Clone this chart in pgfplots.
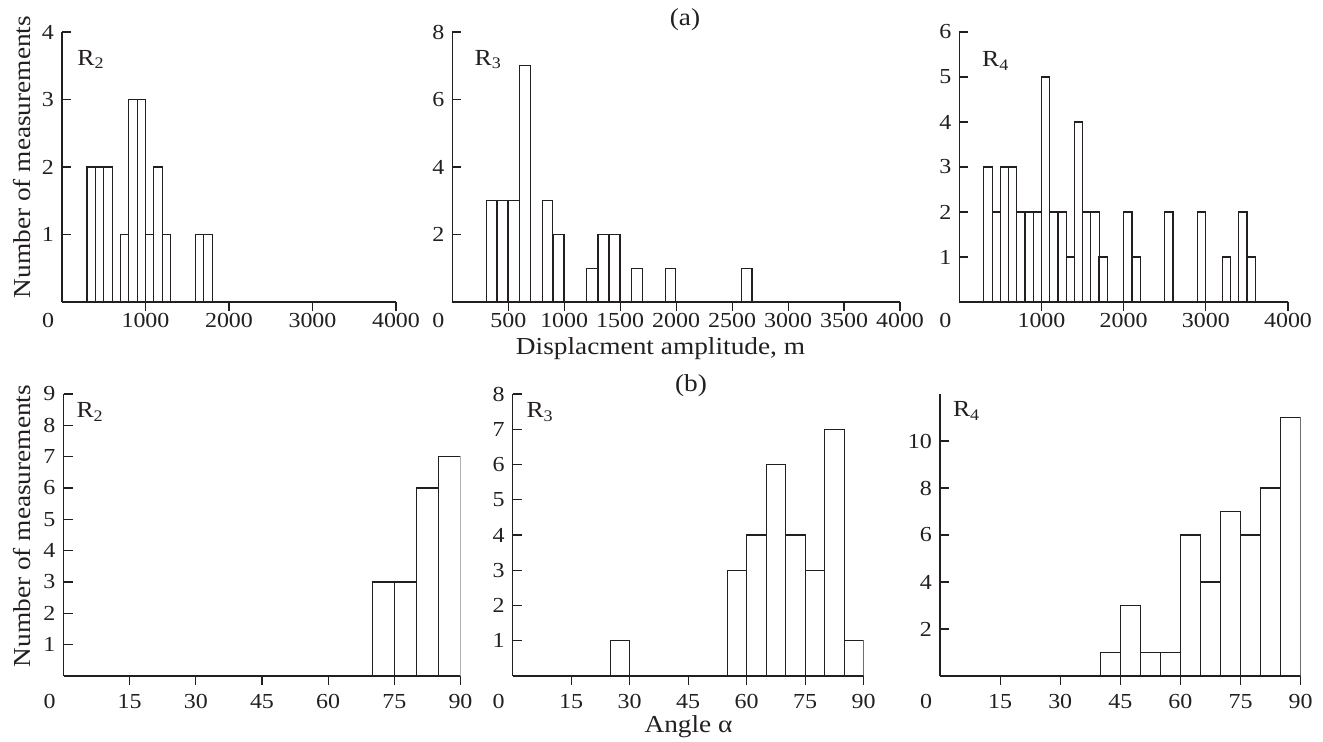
\documentclass[border=0pt]{standalone}
\usepackage{pgfplots}
\pgfplotsset{compat=1.18}
\usepackage{fontspec}
\setmainfont{Liberation Serif}[FakeStretch=1.12]
\definecolor{ink}{RGB}{35,31,32}
\pgfplotsset{
  hist/.style={
    scale only axis, anchor=south west,
    axis lines=left, axis line style={-, line width=0.55pt, draw=ink},
    tick align=inside, xtick pos=bottom, ytick pos=left,
    major tick length=4.5pt,
    tick style={line width=0.55pt, draw=ink},
    xmin=0, ymin=0, enlargelimits=false,
    ybar,
    /pgf/number format/assume math mode=true,
    /pgf/number format/1000 sep={},
    scaled ticks=false,
    tick label style={font=\fontsize{10.7}{12}\selectfont, text=ink},
    yticklabel style={xshift=-0.5pt},
    extra x ticks={0}, extra x tick labels={0},
    extra x tick style={xticklabel style={xshift=-7pt}, tick style={draw=none}},
  },
  top/.style={hist, height=135pt, xticklabel style={yshift=2.5pt}, xmax=4000},
  bot/.style={hist, height=141pt, xticklabel style={yshift=-1pt}, xmax=90,
    xtick={15,30,45,60,75,90}, bar width=5},
  bars/.style={draw=ink, fill=white, line width=0.55pt},
}
\newcommand{\rlab}[3]{\node[anchor=base west, inner sep=0, text=ink, font=\fontsize{11.5}{13}\selectfont] at ([xshift=#2,yshift=#3]rel axis cs:0,1) {R\textsubscript{#1}};}
\begin{document}
\begin{tikzpicture}[x=1pt,y=1pt]
\path (0,0) rectangle (661.5,370.5);
% ---------- (a) ----------
\begin{axis}[top, at={(31pt,219.5pt)}, width=167pt, ymax=4, ytick={1,2,3,4},
  xtick={1000,2000,3000,4000}, bar width=100]
\addplot[bars] coordinates {(350,2) (450,2) (550,2) (750,1) (850,3) (950,3) (1050,1) (1150,2) (1250,1) (1650,1) (1750,1)};
\rlab{2}{7.5pt}{-16.5pt}
\end{axis}
\begin{axis}[top, at={(226.15pt,219.5pt)}, width=223.85pt, ymax=8, ytick={2,4,6,8},
  xtick={500,1000,1500,2000,2500,3000,3500,4000}, bar width=96]
\addplot[bars] coordinates {(350,3) (450,3) (550,3) (650,7) (850,3) (950,2) (1250,1) (1350,2) (1450,2) (1650,1) (1950,1) (2630,1)};
\rlab{3}{11pt}{-16.5pt}
\end{axis}
\begin{axis}[top, at={(479.65pt,219.5pt)}, width=164.35pt, ymax=6, ytick={1,2,3,4,5,6},
  xtick={1000,2000,3000,4000}, bar width=102]
\addplot[bars] coordinates {(350,3) (450,2) (550,3) (650,3) (750,2) (850,2) (950,2) (1050,5) (1150,2) (1250,2) (1350,1) (1450,4) (1550,2) (1650,2) (1750,1) (2050,2) (2150,1) (2550,2) (2950,2) (3250,1) (3450,2) (3550,1)};
\rlab{4}{11.2pt}{-17.3pt}
\end{axis}
% ---------- (b) ----------
\begin{axis}[bot, at={(31.75pt,32.5pt)}, width=198.5pt, ymax=9, ytick={1,2,3,4,5,6,7,8,9}]
\addplot[bars] coordinates {(72.5,3) (77.5,3) (82.5,6) (87.5,7)};
\rlab{2}{6.3pt}{-11.7pt}
\end{axis}
\begin{axis}[bot, at={(256.35pt,32.5pt)}, width=175.5pt, ymax=8, ytick={1,2,3,4,5,6,7,8}]
\addplot[bars] coordinates {(27.5,1) (57.5,3) (62.5,4) (67.5,6) (72.5,4) (77.5,3) (82.5,7) (87.5,1)};
\rlab{3}{6.7pt}{-11.7pt}
\end{axis}
\begin{axis}[bot, at={(470pt,32.5pt)}, width=180.35pt, ymax=12, ytick={2,4,6,8,10}]
\addplot[bars] coordinates {(42.5,1) (47.5,3) (52.5,1) (57.5,1) (62.5,6) (67.5,4) (72.5,7) (77.5,6) (82.5,8) (87.5,11)};
\rlab{4}{6.3pt}{-11.2pt}
\end{axis}
% ---------- texts ----------
\begin{scope}[every node/.style={text=ink, inner sep=0, font=\fontsize{12.2}{14}\selectfont}]
\node[anchor=center] at (342.5,360.5) {(a)};
\node[anchor=base] at (330.25,193.5) {Displacment amplitude, m};
\node[anchor=center] at (345.5,177.5) {(b)};
\node[anchor=base] at (344.25,4.5) {Angle α};
\node[rotate=90, anchor=center] at (11,292) {Number of measurements};
\node[rotate=90, anchor=center] at (11,107.5) {Number of measurements};
\end{scope}
\end{tikzpicture}
\end{document}
